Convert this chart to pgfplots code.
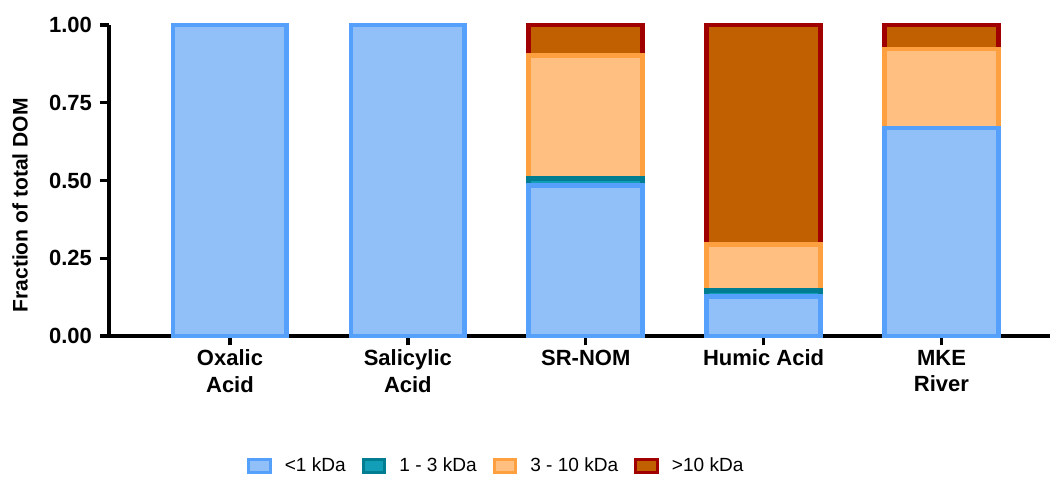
\documentclass[border=0pt]{standalone}
\usepackage{pgfplots}
\pgfplotsset{compat=1.18}
\usepackage{fontspec}
\setmainfont{Liberation Sans}
\definecolor{blueE}{RGB}{85,160,250}
\definecolor{blueF}{RGB}{145,191,248}
\definecolor{tealE}{RGB}{0,125,145}
\definecolor{tealF}{RGB}{18,158,182}
\definecolor{oranE}{RGB}{255,160,64}
\definecolor{oranF}{RGB}{255,191,128}
\definecolor{redE}{RGB}{160,0,0}
\definecolor{redF}{RGB}{192,96,0}
\usepackage{pgfplotstable}
% cumulative tops of each size fraction (fraction of total DOM)
\pgfplotstableread{
x lt1 upto3 upto10 total
0 1.000 1.000 1.000 1.000
1 1.000 1.000 1.000 1.000
2 0.485 0.507 0.901 1.000
3 0.128 0.147 0.293 1.000
4 0.669 0.669 0.923 1.000
}\datatable
\begin{document}
\begin{tikzpicture}
\pgfplotsset{
  mybar/.style={ybar, bar width=0.64, bar shift=0pt, line width=3.6pt,
    legend image code/.code={\draw[##1, line width=2.2pt] (0pt,-4.8pt) rectangle (16pt,4.8pt);}},
}
\begin{axis}[
  name=ax,
  scale only axis, width=705.75pt, height=233.25pt,
  xmin=-0.68, xmax=4.61, ymin=0, ymax=1,
  axis lines*=left,
  axis line style={line width=2.8pt, black},
  tick style={line width=2.6pt, black},
  tick align=outside, major tick length=7pt,
  clip=false,
  ytick={0,0.25,0.5,0.75,1},
  yticklabel style={font=\fontsize{16.5}{20}\selectfont\bfseries, xshift=-2.25pt,
    /pgf/number format/.cd, fixed, fixed zerofill, precision=2, assume math mode=true},
  xtick={0,1,2,3,4},
  xticklabels={{Oxalic\\Acid},{Salicylic\\Acid},{SR-NOM},{Humic Acid},{MKE\\River}},
  xticklabel style={align=center, font=\fontsize{16.5}{20}\selectfont\bfseries},
  ylabel={Fraction of total DOM},
  every axis y label/.style={at={(axis description cs:-0.0946,0.42)}, rotate=90, anchor=center,
    font=\fontsize{15.8}{18}\selectfont\bfseries},
  reverse legend,
  legend columns=4,
  legend style={at={(axis description cs:0.412,-0.418)}, anchor=center, draw=none,
    font=\fontsize{14.3}{16}\selectfont,
    /tikz/every odd column/.append style={column sep=8pt},
    /tikz/every even column/.append style={column sep=10pt}},
  legend cell align=left,
]
\addplot[mybar, draw=redE, fill=redF] table[x=x, y=total] {\datatable};
\addlegendentry{>10 kDa}
\addplot[mybar, draw=oranE, fill=oranF] table[x=x, y=upto10] {\datatable};
\addlegendentry{3 - 10 kDa}
\addplot[mybar, draw=tealE, fill=tealF] table[x=x, y=upto3] {\datatable};
\addlegendentry{1 - 3 kDa}
\addplot[mybar, draw=blueE, fill=blueF] table[x=x, y=lt1] {\datatable};
\addlegendentry{<1 kDa}
\end{axis}
\pgfresetboundingbox
\path[use as bounding box] ([shift={(-81.75pt,-110.25pt)}]ax.south west) rectangle ([shift={(705.75pt,252pt)}]ax.south west);
\end{tikzpicture}
\end{document}
